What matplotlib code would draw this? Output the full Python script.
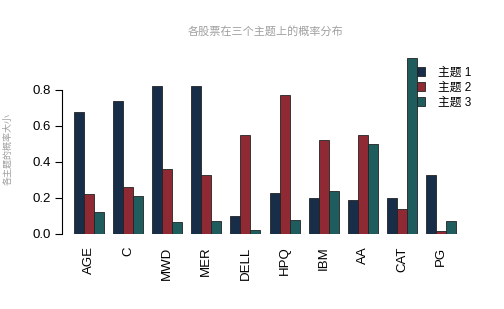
import matplotlib
matplotlib.use("Agg")
import matplotlib.pyplot as plt
import numpy as np

plt.rcParams['font.family'] = ['Liberation Sans', 'Noto Sans CJK SC']

# data
stocks = ['AGE', 'C', 'MWD', 'MER', 'DELL', 'HPQ', 'IBM', 'AA', 'CAT', 'PG']
topic1 = [0.68, 0.74, 0.82, 0.82, 0.10, 0.23, 0.20, 0.19, 0.20, 0.33]
topic2 = [0.22, 0.26, 0.36, 0.33, 0.55, 0.77, 0.52, 0.55, 0.14, 0.015]
topic3 = [0.12, 0.21, 0.065, 0.07, 0.02, 0.08, 0.24, 0.50, 0.98, 0.07]
series_names = ['主题 1', '主题 2', '主题 3']
title = '各股票在三个主题上的概率分布'
ylabel = '各主题的概率大小'

colors = ['#172d48', '#8f2a35', '#1e5c5e']

W, H = 504, 309
fig = plt.figure(figsize=(W / 100, H / 100), dpi=100)
ax = fig.add_axes([62 / W, 1 - 234 / H, (470 - 62) / W, (234 - 50) / H])

x = np.arange(len(stocks))
w = 0.256
for k, vals in enumerate([topic1, topic2, topic3]):
    ax.bar(x + (k - 1) * w, vals, width=w, color=colors[k],
           edgecolor='#222222', linewidth=0.6, label=series_names[k])

ax.set_xlim(-0.69, 9.74)
ax.set_ylim(0, 1.022)

for s in ['top', 'right', 'bottom']:
    ax.spines[s].set_visible(False)
ax.spines['left'].set_bounds(0, 0.8)
ax.spines['left'].set_linewidth(0.8)

ax.set_yticks([0, 0.2, 0.4, 0.6, 0.8])
ax.set_yticklabels(['0.0', '0.2', '0.4', '0.6', '0.8'], fontsize=9.5)
ax.tick_params(axis='y', length=5, width=0.8, pad=3)
ax.set_xticks(x)
ax.set_xticklabels(stocks, rotation=90, fontsize=9.5)
ax.tick_params(axis='x', length=0, pad=9)

ax.set_title(title, fontsize=8, color='#a0a0a0', pad=11)
fig.text(8 / W, 1 - 149 / H, ylabel, rotation=90, fontsize=6.5,
         color='#a0a0a0', ha='center', va='center')

leg = ax.legend(loc='upper right', bbox_to_anchor=(1.015, 0.935), frameon=False,
                fontsize=8.5, handlelength=0.7, handleheight=0.7,
                handletextpad=1.1, labelspacing=0.25, borderaxespad=0)

fig.savefig('out.png', dpi=100, facecolor='white')
